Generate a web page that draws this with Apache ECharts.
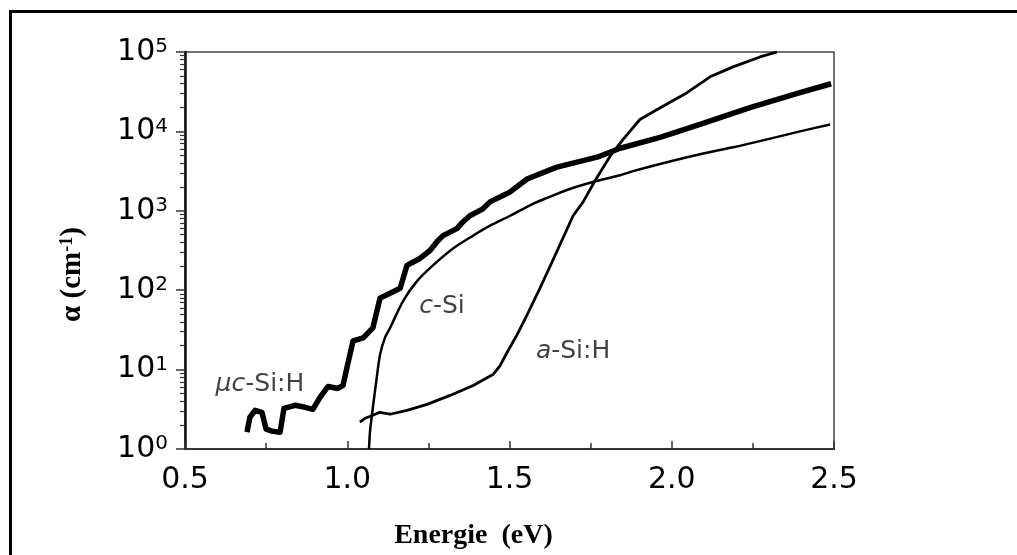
<!DOCTYPE html>
<html>
<head>
<meta charset="utf-8">
<script src="https://cdn.jsdelivr.net/npm/echarts@6/dist/echarts.min.js"></script>
<style>
html,body{margin:0;padding:0;background:#fff;}
#chart{width:1017px;height:555px;}
</style>
</head>
<body>
<div id="chart"></div>
<script>
// μc-Si:H
const energyMuc = [0.691,0.700,0.716,0.737,0.750,0.768,0.793,0.805,0.839,0.870,0.894,0.916,0.941,0.971,0.987,0.999,1.018,1.049,1.079,1.101,1.132,1.163,1.184,1.224,1.255,1.277,1.295,1.338,1.357,1.378,1.418,1.440,1.502,1.554,1.646,1.770,1.841,1.964,2.087,2.241,2.395,2.491];
const alphaMuc  = [1.63,2.51,3.07,2.90,1.78,1.68,1.63,3.25,3.55,3.35,3.16,4.47,6.13,5.79,6.31,10.6,23.0,25.1,33.5,79.4,91.7,106,205,251,316,410,487,596,729,866,1059,1296,1729,2512,3548,4732,6130,8414,12230,19950,30725,39810];
// c-Si
const energyCSi = [1.067,1.070,1.076,1.079,1.089,1.101,1.116,1.132,1.172,1.215,1.264,1.326,1.388,1.440,1.502,1.572,1.616,1.677,1.757,1.841,1.881,1.985,2.087,2.189,2.294,2.395,2.488];
const alphaCSi  = [1.0,1.63,2.66,3.35,6.88,15.4,25.1,33.5,72.9,130,205,335,487,649,866,1223,1454,1830,2304,2800,3162,4097,5158,6310,7943,10000,12230];
// a-Si:H
const energyASi = [1.039,1.055,1.079,1.100,1.132,1.184,1.246,1.317,1.388,1.449,1.471,1.492,1.523,1.554,1.594,1.646,1.696,1.727,1.763,1.810,1.850,1.902,1.955,2.047,2.118,2.189,2.272,2.324];
const alphaASi  = [2.18,2.44,2.66,2.90,2.74,3.07,3.65,4.73,6.31,8.66,11.2,16.3,27.4,48.7,106,307,866,1296,2371,4870,7943,14125,18836,30725,48700,64900,86600,100000];
// labels
const curveNames = ['μc-Si:H','c-Si','a-Si:H'];
const labelEnergy = [0.731,1.292,1.696];
const labelAlpha  = [6.5,63,16.8];
const xTicks = [0.5,1.0,1.5,2.0,2.5];

function pairs(xs, ys){ return xs.map((x,i)=>[x, ys[i]]); }

const chart = echarts.init(document.getElementById('chart'));
const tickFont = 'DejaVu Sans';
chart.setOption({
  animation:false,
  backgroundColor:'#fff',
  grid:{left:185,right:183,top:52,bottom:103,show:true,borderColor:'#444',borderWidth:1.5,backgroundColor:'transparent'},
  graphic:[{type:'rect',left:8,top:9,shape:{x:0,y:0,width:1100,height:700},style:{fill:'none',stroke:'#000',lineWidth:3},silent:true}],
  xAxis:{
    type:'value',min:0.5,max:2.5,interval:0.5,
    name:'{b|Energie  (eV)}',
    nameLocation:'middle',nameGap:73,
    nameTextStyle:{padding:[0,72,0,0],rich:{b:{fontFamily:'Liberation Serif',fontWeight:'bold',fontSize:28,color:'#000'}}},
    axisLine:{lineStyle:{color:'#333',width:2}},
    axisTick:{inside:true,length:8,lineStyle:{color:'#333',width:1.5}},
    minorTick:{show:true,splitNumber:2,length:6,lineStyle:{color:'#333',width:1.5}},
    splitLine:{show:false},
    axisLabel:{margin:16,fontFamily:tickFont,fontSize:30,color:'#000',formatter:v=>v.toFixed(1),customValues:xTicks}
  },
  yAxis:{
    type:'log',logBase:10,min:1,max:100000,
    name:'{a|α (cm}{s|-1}{a|)}',
    nameLocation:'middle',nameRotate:90,nameGap:98,
    nameTextStyle:{padding:[0,48,0,0],rich:{a:{fontFamily:'Liberation Serif',fontWeight:'bold',fontSize:29,color:'#000'},s:{fontFamily:'Liberation Serif',fontWeight:'bold',fontSize:18,color:'#000',verticalAlign:'top'}}},
    axisLine:{lineStyle:{color:'#111',width:2.5}},
    axisTick:{inside:false,length:9,lineStyle:{color:'#333',width:1.5}},
    minorTick:{show:true,splitNumber:9,length:5,lineStyle:{color:'#333',width:1.2}},
    splitLine:{show:false},minorSplitLine:{show:false},
    axisLabel:{margin:17,formatter:function(v){var e=Math.round(Math.log10(v));return '{b|10}{s|'+e+'}';},
      rich:{b:{fontFamily:tickFont,fontSize:30,color:'#000'},s:{fontFamily:tickFont,fontSize:20,color:'#000',verticalAlign:'top'}}}
  },
  series:[
    {type:'line',name:curveNames[0],data:pairs(energyMuc,alphaMuc),showSymbol:false,symbol:'none',lineStyle:{color:'#000',width:5.5,join:'round'},z:3},
    {type:'line',name:curveNames[1],data:pairs(energyCSi,alphaCSi),showSymbol:false,symbol:'none',smooth:0.3,lineStyle:{color:'#000',width:2.5}},
    {type:'line',name:curveNames[2],data:pairs(energyASi,alphaASi),showSymbol:false,symbol:'none',lineStyle:{color:'#000',width:2.8}},
    {type:'scatter',symbolSize:0,silent:true,
      data:labelEnergy.map((e,i)=>({value:[e,labelAlpha[i]],name:curveNames[i]})),
      label:{show:true,position:'inside',color:'#111',fontFamily:tickFont,fontSize:25,
        formatter:function(p){
          if(p.dataIndex===0) return '{i|μc}{n|-Si:H}';
          if(p.dataIndex===1) return '{i|c}{n|-Si}';
          return '{i|a}{n|-Si:H}';
        },
        rich:{i:{fontStyle:'italic',fontFamily:tickFont,fontSize:25,color:'#111'},n:{fontFamily:tickFont,fontSize:25,color:'#111'}}}
    }
  ]
});
</script>
</body>
</html>
